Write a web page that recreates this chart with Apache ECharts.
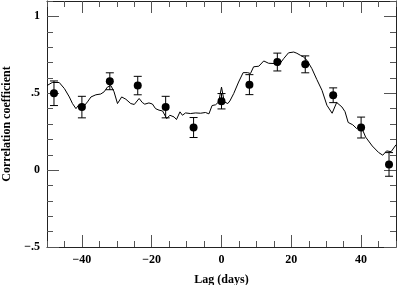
<!DOCTYPE html>
<html><head><meta charset="utf-8">
<script src="https://cdn.jsdelivr.net/npm/echarts@6/dist/echarts.min.js"></script>
<style>html,body{margin:0;padding:0;background:#fff}#c{width:397px;height:285px}</style>
</head><body><div id="c"></div>
<script>
// Continuous correlation function (lag in days, coefficient)
const lineLag = [-50,-48.5,-46.5,-45,-43.6,-42.7,-41.7,-40.8,-39.8,-38.4,-37.4,-36,-34.6,-33.6,-32.7,-31.7,-30.8,-29.8,-28.6,-27.4,-26,-25,-23.6,-22.7,-22,-20.8,-19.8,-18.9,-17.9,-16.9,-15.7,-14.8,-13.6,-12.9,-11.9,-11.2,-10.3,-8.9,-7.4,-6,-4.6,-3.6,-2.7,-1.7,-0.8,0,0.8,1.8,2.4,3.5,4.9,6.2,7.5,8.3,9.2,10.7,12.1,13.5,15.2,16.4,17.8,19.2,20.7,21.6,22.6,23.5,24.5,25.9,27.3,28.8,30.2,31.7,33,34.5,35.4,36.3,37.6,38.7,39.9,41.3,43.2,45,46.2,47.3,48.6,50];
const lineR = [0.55,0.57,0.57,0.53,0.476,0.433,0.40,0.427,0.405,0.444,0.476,0.49,0.495,0.51,0.54,0.55,0.51,0.433,0.476,0.461,0.433,0.427,0.466,0.44,0.429,0.437,0.43,0.40,0.39,0.385,0.335,0.357,0.346,0.329,0.379,0.357,0.372,0.368,0.372,0.37,0.375,0.366,0.42,0.425,0.444,0.54,0.444,0.433,0.45,0.498,0.573,0.634,0.634,0.628,0.672,0.676,0.71,0.695,0.693,0.682,0.725,0.763,0.768,0.76,0.747,0.736,0.714,0.66,0.59,0.519,0.422,0.37,0.44,0.411,0.38,0.31,0.295,0.271,0.29,0.215,0.157,0.115,0.097,0.125,0.12,0.165];
// Discrete points with error bars
const ptLag = [-48,-40,-32,-24,-16,-8,0,8,16,24,32,40,48];
const ptR = [0.50,0.41,0.578,0.55,0.41,0.277,0.448,0.556,0.703,0.688,0.487,0.277,0.037];
const ptErr = [0.08,0.07,0.055,0.06,0.07,0.065,0.05,0.065,0.058,0.055,0.048,0.068,0.077];
// Tick labels
const xLabels = [-40,-20,0,20,40];
const yLabels = [-0.5,0,0.5,1];

const lineData = lineLag.map((x,i)=>[x,lineR[i]]);
const ptData = ptLag.map((x,i)=>[x,ptR[i]]);
const errData = ptLag.map((x,i)=>[x,ptR[i]-ptErr[i],ptR[i]+ptErr[i]]);

const fontFam = '"Liberation Serif","DejaVu Serif",serif';
const frameColor = '#222';
const tickColor = '#555';
function yFmt(v){ if (Math.abs(v)<1e-9) return '0'; if (Math.abs(v-1)<1e-9) return '1'; let s=String(Math.abs(v)).replace(/^0/,''); return (v<0?'\u2212':'')+s; }
function xFmt(v){ return v<0 ? '\u2212'+Math.abs(v) : String(v); }

const lbl = {fontFamily:fontFam,fontWeight:'bold',fontSize:12,color:'#000'};
function xA(pos, major, show){
  const a = {type:'value',min:-50,max:50,position:pos,gridIndex:0,
    splitLine:{show:false},
    axisLine:{show:!major,onZero:false,lineStyle:{color:frameColor,width:1}}};
  if (major){
    a.axisTick={show:true,inside:true,length:12,customValues:xLabels,lineStyle:{color:tickColor}};
    a.axisLabel={show:show,customValues:xLabels,formatter:xFmt,margin:7,...lbl};
  } else {
    a.interval=5;
    a.axisTick={show:true,inside:true,length:6,lineStyle:{color:tickColor}};
    a.axisLabel={show:false};
  }
  return a;
}
function yA(pos, major, show){
  const a = {type:'value',min:-0.5,max:1.1,position:pos,gridIndex:0,
    splitLine:{show:false},
    axisLine:{show:!major,onZero:false,lineStyle:{color:frameColor,width:1}}};
  if (major){
    a.axisTick={show:true,inside:true,length:12,customValues:yLabels,lineStyle:{color:tickColor}};
    a.axisLabel={show:show,customValues:yLabels,formatter:yFmt,margin:7,...lbl};
  } else {
    a.interval=0.1;
    a.axisTick={show:true,inside:true,length:6,lineStyle:{color:tickColor}};
    a.axisLabel={show:false};
  }
  return a;
}
const xb = xA('bottom',true,true);
xb.name='Lag (days)'; xb.nameLocation='middle'; xb.nameGap=27;
xb.nameTextStyle={fontFamily:fontFam,fontWeight:'bold',fontSize:12,color:'#000'};
const yl = yA('left',true,true);
yl.name='Correlation coefficient'; yl.nameLocation='middle'; yl.nameGap=28;
yl.nameTextStyle={fontFamily:fontFam,fontWeight:'bold',fontSize:12,color:'#000'};

const chart = echarts.init(document.getElementById('c'),null,{renderer:'canvas'});
chart.setOption({
  animation:false,
  backgroundColor:'#fff',
  grid:{left:47,right:1,top:1,bottom:38,containLabel:false,outerBoundsMode:'none'},
  xAxis:[xA('bottom',false), xb, xA('top',false), xA('top',true,false)],
  yAxis:[yA('left',false), yl, yA('right',false), yA('right',true,false)],
  series:[
    {type:'line',xAxisIndex:0,yAxisIndex:0,data:lineData,showSymbol:false,
     lineStyle:{color:'#000',width:1},z:3},
    {type:'custom',xAxisIndex:0,yAxisIndex:0,data:errData,z:4,
     renderItem:function(params,api){
       const x=api.value(0), lo=api.value(1), hi=api.value(2);
       const p1=api.coord([x,lo]), p2=api.coord([x,hi]);
       const w=4, st={stroke:'#000',lineWidth:1};
       return {type:'group',children:[
         {type:'line',shape:{x1:p1[0],y1:p1[1],x2:p2[0],y2:p2[1]},style:st},
         {type:'line',shape:{x1:p1[0]-w,y1:p1[1],x2:p1[0]+w,y2:p1[1]},style:st},
         {type:'line',shape:{x1:p2[0]-w,y1:p2[1],x2:p2[0]+w,y2:p2[1]},style:st}
       ]};
     }},
    {type:'scatter',xAxisIndex:0,yAxisIndex:0,data:ptData,symbol:'circle',symbolSize:8,
     itemStyle:{color:'#000',opacity:1},z:5}
  ]
});
</script></body></html>
